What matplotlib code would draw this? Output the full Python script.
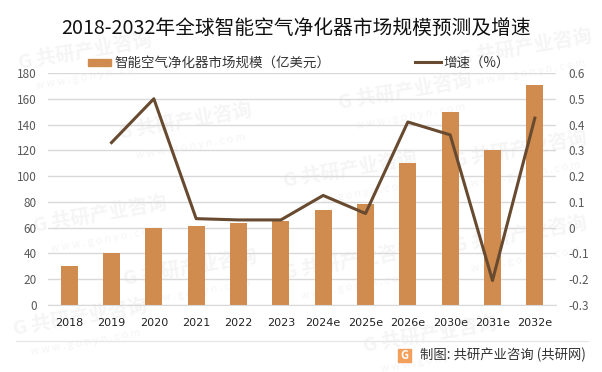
import matplotlib
matplotlib.use('Agg')
import matplotlib.pyplot as plt
from matplotlib.patches import Rectangle

plt.rcParams['font.family'] = ['Noto Sans CJK SC', 'DejaVu Sans']

years = ['2018', '2019', '2020', '2021', '2022', '2023', '2024e', '2025e', '2026e', '2030e', '2031e', '2032e']
market = [30, 40, 59.5, 61.5, 64, 65.5, 74, 78, 110, 150, 120, 171]
growth = [None, 0.33, 0.5, 0.035, 0.03, 0.03, 0.125, 0.055, 0.41, 0.36, -0.205, 0.425]
left_ticks = [0, 20, 40, 60, 80, 100, 120, 140, 160, 180]
right_ticks = [-0.3, -0.2, -0.1, 0, 0.1, 0.2, 0.3, 0.4, 0.5, 0.6]
right_labels = ['-0.3', '-0.2', '-0.1', '0', '0.1', '0.2', '0.3', '0.4', '0.5', '0.6']

W, H = 602, 372
fig = plt.figure(figsize=(W / 100, H / 100), dpi=100)

# 水印
wm_pos = [(85, 52), (405, 92), (525, 48), (185, 122), (520, 150), (100, 215),
          (350, 170), (190, 268), (520, 235), (80, 318), (430, 335), (350, 262)]
for x, y in wm_pos:
    fig.text(x / W, 1 - y / H, 'G 共研产业咨询', fontsize=14, fontweight='bold', color='#f5f5f5',
             rotation=10, ha='center', va='center', zorder=0)
    fig.text((x + 6) / W, 1 - (y + 24) / H, 'w w w . g o n y n . c o m', fontsize=7.5, color='#f5f5f5',
             rotation=10, ha='center', va='center', zorder=0)

ax = fig.add_axes([48 / W, 1 - 305 / H, 508 / W, 232 / H], zorder=2)
ax.patch.set_alpha(0)
pos = list(range(len(years)))
ax.bar(pos, market, width=0.4, color='#d08c4e', zorder=2)
ax.set_xlim(-0.5, 11.5)
ax.set_ylim(0, 180)
ax.set_yticks(left_ticks)
ax.set_xticks(pos)
ax.set_xticklabels(years, fontsize=8, color='#222222', family='DejaVu Sans')
ax.tick_params(axis='both', length=0)
ax.tick_params(axis='y', labelsize=8.5, labelcolor='#595959', pad=8)
ax.tick_params(axis='x', pad=9)
ax.grid(axis='y', color='#d9d9d9', linewidth=1, zorder=1)
ax.set_axisbelow(True)
for s in ['top', 'left', 'right']:
    ax.spines[s].set_visible(False)
ax.spines['bottom'].set_color('#d9d9d9')

ax2 = ax.twinx()
ax2.patch.set_alpha(0)
ax2.plot(pos[1:], growth[1:], color='#674a30', linewidth=2.2, zorder=3)
ax2.set_ylim(-0.3, 0.6)
ax2.set_yticks(right_ticks)
ax2.set_yticklabels(right_labels, fontsize=8.5, color='#595959')
ax2.tick_params(axis='y', length=0, pad=9)
for s in ax2.spines.values():
    s.set_visible(False)

fig.text(296 / W, 1 - 28 / H, '2018-2032年全球智能空气净化器市场规模预测及增速', fontsize=14.2,
         color='#111111', ha='center', va='center', zorder=3)

# 图例
fig.patches.append(Rectangle((88 / W, 1 - 66 / H), 23 / W, 7 / H, transform=fig.transFigure, color='#d08c4e'))
fig.text(114 / W, 1 - 63 / H, '智能空气净化器市场规模（亿美元）', fontsize=9.7, color='#333333', va='center', zorder=3)
fig.add_artist(plt.Line2D([415 / W, 441 / W], [1 - 62 / H, 1 - 62 / H], color='#674a30', linewidth=2.2))
fig.text(443 / W, 1 - 63 / H, '增速（%）', fontsize=9.7, color='#333333', va='center', zorder=3)

# 底部
fig.add_artist(plt.Line2D([16 / W, 588 / W], [1 - 340.5 / H, 1 - 340.5 / H], color='#e6e6e6', linewidth=0.9))
fig.patches.append(Rectangle((398 / W, 1 - 362 / H), 13 / W, 13 / H, transform=fig.transFigure, color='#f2a05c'))
fig.text(404.5 / W, 1 - 355.5 / H, 'G', fontsize=8, fontweight='bold', color='white', ha='center', va='center', zorder=3)
fig.text(420 / W, 1 - 355 / H, '制图: 共研产业咨询 (共研网)', fontsize=9.6, color='#333333', va='center', zorder=3)

fig.savefig('out.png', dpi=100)
